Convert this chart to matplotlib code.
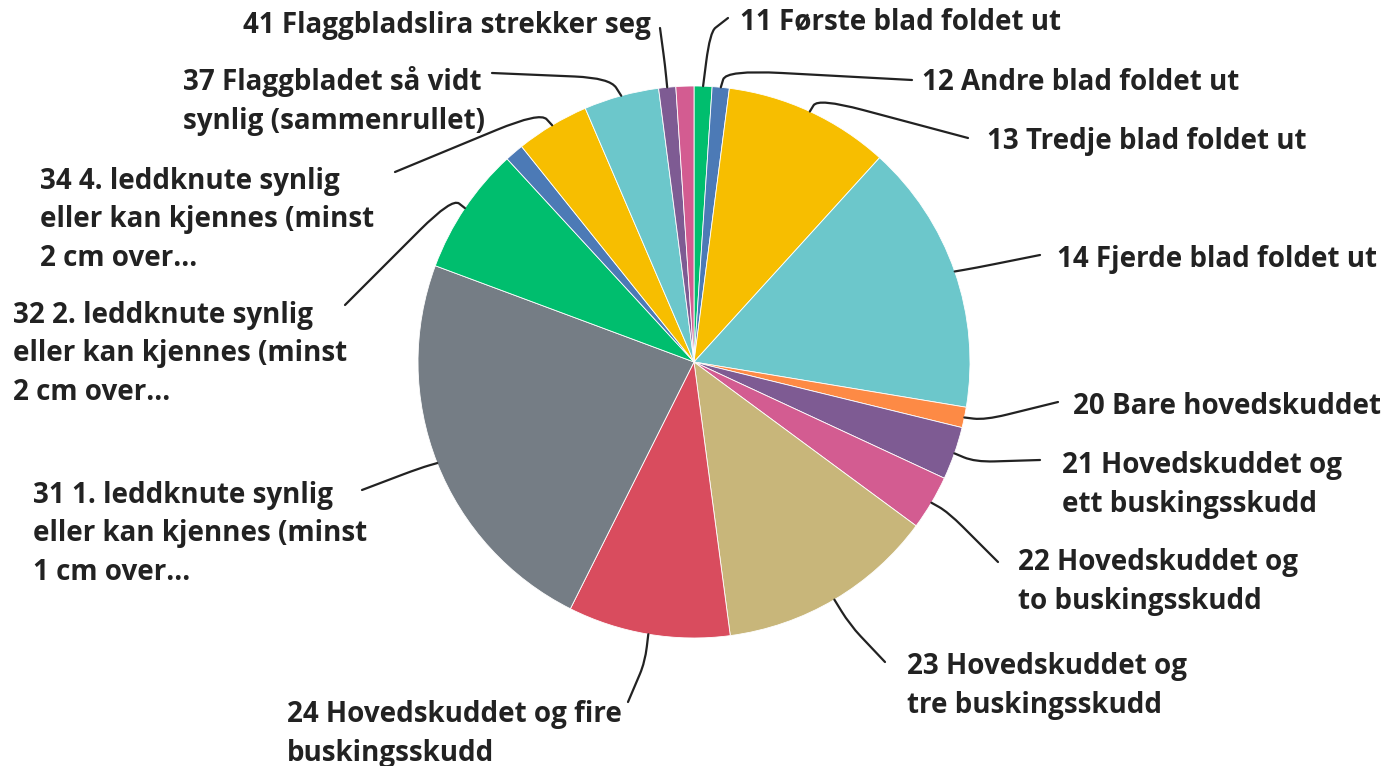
import numpy as np
import matplotlib.pyplot as plt
from matplotlib.path import Path
from matplotlib.patches import PathPatch

# verdier lest av figuren (andel i prosent)
categories = [
    "11 Første blad foldet ut",
    "12 Andre blad foldet ut",
    "13 Tredje blad foldet ut",
    "14 Fjerde blad foldet ut",
    "20 Bare hovedskuddet",
    "21 Hovedskuddet og\nett buskingsskudd",
    "22 Hovedskuddet og\nto buskingsskudd",
    "23 Hovedskuddet og\ntre buskingsskudd",
    "24 Hovedskuddet og fire\nbuskingsskudd",
    "31 1. leddknute synlig\neller kan kjennes (minst\n1 cm over...",
    "32 2. leddknute synlig\neller kan kjennes (minst\n2 cm over...",
    "",
    "34 4. leddknute synlig\neller kan kjennes (minst\n2 cm over...",
    "37 Flaggbladet så vidt\nsynlig (sammenrullet)",
    "41 Flaggbladslira strekker seg",
    "",
]
values = [1.05, 1.0, 9.7, 15.9, 1.2, 3.1, 3.2, 12.8, 9.5, 23.3, 7.5, 1.1, 4.3, 4.4, 1.0, 1.05]
colors = ["#00be6e", "#4c7ab6", "#f7be00", "#6cc7cb", "#fd8a45", "#7e5b93", "#d35c91",
          "#c8b67a", "#d94c5e", "#757d85", "#00be6e", "#4c7ab6", "#f7be00", "#6cc7cb",
          "#7e5b93", "#d35c91"]

# plassering av etiketter (piksler): tekst (venstre, midten), knekk-punkt, slutt-punkt
label_pos = {
    0: ((740, 22), (710, 32), (728, 18)),
    1: ((922, 83), (726, 70), (912, 80)),
    2: ((987, 142), (818, 98), (968, 138)),
    3: ((1057, 260), (975, 268), (1040, 255)),
    4: ((1073, 407), (985, 420), (1058, 402)),
    5: ((1062, 485), (975, 462), (1040, 460)),
    6: ((1018, 582), (948, 512), (998, 562)),
    7: ((907, 686), (850, 625), (885, 662)),
    8: ((287, 734), (645, 662), (628, 702)),
    9: ((33, 534), (420, 468), (362, 490)),
    10: ((13, 354), (452, 198), (345, 305)),
    12: ((40, 220), (540, 112), (395, 172)),
    13: ((183, 101), (610, 78), (492, 73)),
    14: ((243, 25), (665, 65), (660, 28)),
}

W, H = 1389, 766
cx, cy, R = 694, 362, 276


def px(p):
    return np.array([(p[0] - cx) / R, (cy - p[1]) / R])


fig = plt.figure(figsize=(W / 100, H / 100), dpi=100)
ax = fig.add_axes([0, 0, 1, 1])
ax.pie(values, colors=colors, startangle=90, counterclock=False, radius=1,
       wedgeprops=dict(edgecolor="white", linewidth=0.6))
ax.set_xlim(-cx / R, (W - cx) / R)
ax.set_ylim((cy - H) / R, cy / R)
ax.set_aspect("equal")
ax.axis("off")

total = sum(values)
cum = np.cumsum([0] + values)
for i, (txt_p, elbow, end) in label_pos.items():
    mid = (cum[i] + cum[i + 1]) / 2 / total * 2 * np.pi
    s = np.array([np.sin(mid), np.cos(mid)])
    e = px(elbow)
    t = px(end)
    # avrundet knekk
    a = s + 0.45 * (e - s)
    b = e + 0.3 * (t - e)
    path = Path([s, a, e, b, t],
                [Path.MOVETO, Path.LINETO, Path.CURVE3, Path.CURVE3, Path.LINETO])
    ax.add_patch(PathPatch(path, fill=False, edgecolor="#222222", lw=1.6,
                           capstyle="round", zorder=1))
    lx, ly = px(txt_p)
    ax.text(lx, ly, categories[i], ha="left", va="center", fontsize=20,
            family="Open Sans", weight="bold", color="#222222",
            linespacing=1.42)

fig.savefig("out.png", dpi=100)
